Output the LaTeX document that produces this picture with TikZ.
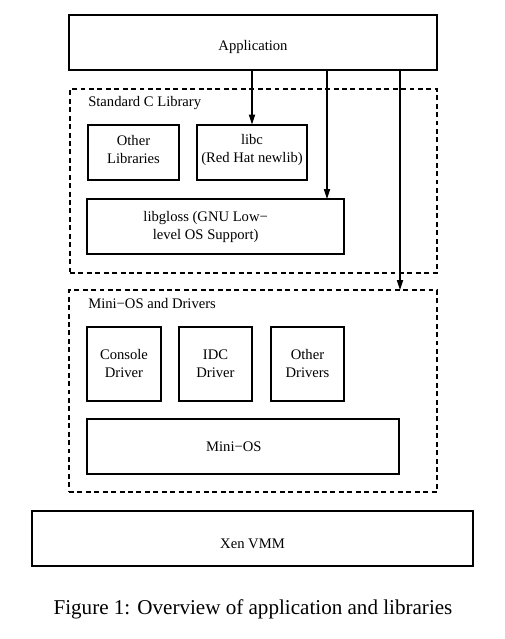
\documentclass[tikz,border=0pt]{standalone}
\usepackage{fontspec}
\setmainfont{Liberation Serif}
\usetikzlibrary{arrows.meta,positioning}

\begin{document}
\begin{tikzpicture}[
    font=\fontsize{10.4}{12.8}\selectfont,
    box/.style={draw, line width=0.8pt, inner sep=0pt, align=center},
    group/.style={draw, line width=0.8pt, dash pattern=on 3.5pt off 2.5pt},
    grouplabel/.style={anchor=west, inner sep=0pt},
    call/.style={-{Triangle[length=7pt,width=4.4pt]}, line width=0.8pt}
  ]
    \useasboundingbox (0,0) rectangle (12.625,15.975);
    % application on top
    \node [box, minimum width=9.2cm, minimum height=1.375cm] (app) at (6.325,14.9125) {\raisebox{-3.5pt}[\height][\depth]{Application}};
    % standard C library
    \node [group, minimum width=9.175cm, minimum height=4.6cm] (stdc) at (6.3375,11.45) {};
    \node [grouplabel] (stdclabel) at (2.2,13.4) {Standard C Library};
    \node [box, minimum width=2.275cm, minimum height=1.375cm] (otherlib) at (3.3375,12.1625) {\raisebox{2pt}[\height][\depth]{Other}\\\raisebox{2pt}[\height][\depth]{Libraries}};
    \node [box, minimum width=2.75cm, minimum height=1.375cm] (libc) at (6.3,12.1625) {\raisebox{2pt}[\height][\depth]{libc}\\\raisebox{2pt}[\height][\depth]{(Red Hat newlib)}};
    \node [box, minimum width=6.425cm, minimum height=1.375cm] (libgloss) at (5.3875,10.3125) {\hspace*{-14pt}libgloss (GNU Low−\\\hspace*{-14pt}level OS Support)};
    % mini-os and drivers
    \node [group, minimum width=9.2cm, minimum height=5.05cm] (mini) at (6.325,6.2) {};
    \node [grouplabel] (minilabel) at (2.2,8.375) {Mini−OS and Drivers};
    \node [box, minimum width=1.85cm, minimum height=1.85cm] (console) at (3.1,6.875) {Console\\Driver};
    \node [box, minimum width=1.825cm, minimum height=1.85cm] (idc) at (5.3875,6.875) {IDC\\Driver};
    \node [box, minimum width=1.825cm, minimum height=1.85cm] (otherdrv) at (7.6875,6.875) {Other\\Drivers};
    \node [box, minimum width=7.8cm, minimum height=1.375cm] (minios) at (6.075,4.8125) {\hspace*{-13pt}Mini−OS};
    % hypervisor
    \node [box, minimum width=11.025cm, minimum height=1.375cm] (xen) at (6.3125,2.5125) {\raisebox{-3.5pt}[\height][\depth]{Xen VMM}};
    \node (caption) at (6.325,0.75) {\fontsize{15}{18}\selectfont Figure 1: Overview of application and libraries};
    % calls from the application
    \coordinate (glosstop) at (8.175,11.0);
    \coordinate (minitop) at (10.0,8.725);
    \draw [call] (app.south -| libc.north) -- (libc.north);
    \draw [call] (app.south -| glosstop) -- (glosstop);
    \draw [call] (app.south -| minitop) -- (minitop);
\end{tikzpicture}
\end{document}
